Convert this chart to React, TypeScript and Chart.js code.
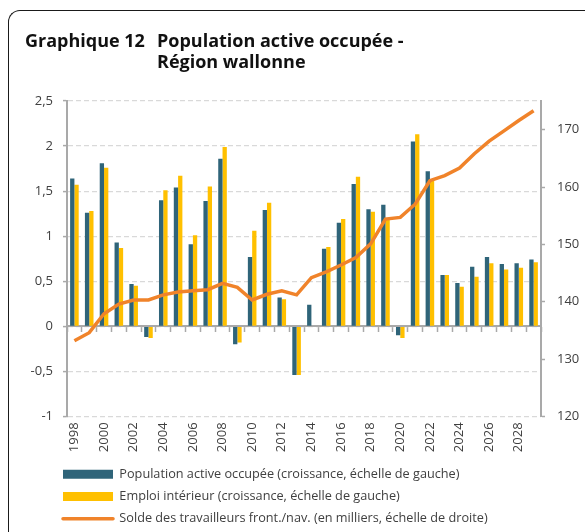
import React, { useEffect, useRef } from "react";
import { Chart, registerables } from "chart.js";

Chart.register(...registerables);

const years: string[] = [
  "1998", "1999", "2000", "2001", "2002", "2003", "2004", "2005", "2006", "2007",
  "2008", "2009", "2010", "2011", "2012", "2013", "2014", "2015", "2016", "2017",
  "2018", "2019", "2020", "2021", "2022", "2023", "2024", "2025", "2026", "2027",
  "2028", "2029",
];

const populationActive: number[] = [
  1.64, 1.26, 1.81, 0.93, 0.47, -0.12, 1.40, 1.54, 0.91, 1.39,
  1.86, -0.20, 0.77, 1.29, 0.32, -0.54, 0.24, 0.86, 1.15, 1.58,
  1.30, 1.35, -0.10, 2.05, 1.72, 0.57, 0.48, 0.66, 0.77, 0.69,
  0.70, 0.74,
];

const emploiInterieur: number[] = [
  1.57, 1.28, 1.76, 0.87, 0.45, -0.13, 1.51, 1.67, 1.01, 1.55,
  1.99, -0.18, 1.06, 1.37, 0.30, -0.54, 0.0, 0.88, 1.19, 1.66,
  1.27, 1.18, -0.13, 2.13, 1.62, 0.57, 0.44, 0.55, 0.70, 0.63,
  0.65, 0.71,
];

const soldeFrontaliers: number[] = [
  133.2, 134.6, 137.9, 139.6, 140.3, 140.3, 141.2, 141.7, 141.9, 142.1,
  143.2, 142.5, 140.3, 141.3, 141.9, 141.2, 144.2, 145.2, 146.4, 147.7,
  150.1, 154.4, 154.7, 157.0, 161.1, 162.0, 163.3, 165.8, 168.0, 169.8,
  171.6, 173.3,
];

const seriesLabels: string[] = [
  "Population active occupée (croissance, échelle de gauche)",
  "Emploi intérieur (croissance, échelle de gauche)",
  "Solde des travailleurs front./nav. (en milliers, échelle de droite)",
];

const titleLabel = "Graphique 12";
const titleLines: string[] = ["Population active occupée -", "Région wallonne"];

const FONT = "'Open Sans', Lato, sans-serif";
const TEXT = "#404040";
const AXIS = "#A9A9A9";
const GRID = "#D9D9D9";

const legendShift = {
  id: "legendShift",
  afterLayout(chart: any) {
    const lg = chart.legend;
    const y = chart.scales.y;
    if (lg && y) {
      lg.left = y.left + 26.5;
    }
  },
};

export default function App() {
  const canvasRef = useRef<HTMLCanvasElement | null>(null);

  useEffect(() => {
    const canvas = canvasRef.current;
    if (!canvas) return;
    const chart = new Chart(canvas, {
      type: "bar",
      plugins: [legendShift],
      data: {
        labels: years,
        datasets: [
          {
            type: "bar",
            label: seriesLabels[0],
            data: populationActive,
            backgroundColor: "#2F6479",
            borderWidth: 0,
            barPercentage: 1,
            categoryPercentage: 0.58,
            yAxisID: "y",
            order: 1,
          },
          {
            type: "bar",
            label: seriesLabels[1],
            data: emploiInterieur,
            backgroundColor: "#FFC000",
            borderWidth: 0,
            barPercentage: 1,
            categoryPercentage: 0.58,
            yAxisID: "y",
            order: 2,
          },
          {
            type: "line",
            label: seriesLabels[2],
            data: soldeFrontaliers,
            borderColor: "#F0832A",
            backgroundColor: "#F0832A",
            borderWidth: 3.5,
            pointRadius: 0,
            tension: 0,
            yAxisID: "y1",
            order: 0,
          } as any,
        ],
      },
      options: {
        responsive: false,
        animation: false,
        layout: { padding: { left: 27, right: 0, top: 101, bottom: -3 } },
        plugins: {
          tooltip: { enabled: false },
          title: { display: false },
          legend: {
            position: "bottom",
            align: "start",
            labels: {
              usePointStyle: true,
              pointStyleWidth: 50,
              boxHeight: 9,
              padding: 9.5,
              color: TEXT,
              font: { family: FONT, size: 12.7 },
              sort: (a: any, b: any) => a.datasetIndex - b.datasetIndex,
              generateLabels: (c: any) => {
                const items = Chart.defaults.plugins.legend.labels.generateLabels(c);
                return items.map((it: any) => {
                  if (it.datasetIndex === 2) {
                    return { ...it, pointStyle: "line", lineWidth: 3.5, strokeStyle: "#F0832A", lineCap: "round" };
                  }
                  return { ...it, pointStyle: "rect", lineWidth: 0 };
                });
              },
            },
          },
        },
        scales: {
          x: {
            type: "category",
            position: "bottom",
            offset: true,
            grid: { display: false, drawTicks: false },
            border: { display: false },
            ticks: {
              autoSkip: false,
              minRotation: 90,
              maxRotation: 90,
              padding: 6,
              color: TEXT,
              font: { family: FONT, size: 13 },
              callback: (_v: any, i: number) => (i % 2 === 0 ? years[i] : ""),
            },
            afterFit: (s: any) => {
              s.height = 42;
            },
          },
          x2: {
            type: "category",
            labels: years,
            position: { y: 0 } as any,
            offset: true,
            z: 1,
            grid: {
              drawOnChartArea: false,
              drawTicks: true,
              tickLength: 5,
              tickWidth: 1.5,
              tickColor: AXIS,
              offset: true,
            },
            border: { display: true, color: AXIS, width: 2 },
            ticks: { display: false },
          } as any,
          y: {
            type: "linear",
            position: "left",
            min: -1,
            max: 2.5,
            ticks: {
              stepSize: 0.5,
              padding: 10,
              color: TEXT,
              font: { family: FONT, size: 13 },
              callback: (v: any) => String(Number(v)).replace(".", ","),
            },
            grid: {
              color: GRID,
              lineWidth: 1.2,
              drawTicks: true,
              tickLength: 4,
              tickColor: AXIS,
              tickWidth: 1.5,
            },
            border: { display: true, color: AXIS, width: 2, dash: [5, 3] },
            afterFit: (s: any) => {
              s.width = 40;
            },
          },
          y1: {
            type: "linear",
            position: "right",
            min: 120,
            max: 175,
            ticks: {
              stepSize: 10,
              padding: 12,
              color: TEXT,
              font: { family: FONT, size: 13 },
            },
            afterBuildTicks: (s: any) => {
              s.ticks = s.ticks.filter((t: any) => t.value <= 170);
            },
            grid: {
              drawOnChartArea: false,
              drawTicks: true,
              tickLength: 4,
              tickColor: AXIS,
              tickWidth: 1.5,
            },
            border: { display: true, color: AXIS, width: 2 },
            afterFit: (s: any) => {
              s.width = 44;
            },
          },
        },
      } as any,
    });
    return () => chart.destroy();
  }, []);

  const titleStyle: React.CSSProperties = {
    position: "absolute",
    top: 30,
    fontFamily: FONT,
    fontWeight: 700,
    fontSize: 18,
    lineHeight: "21px",
    color: "#111",
    whiteSpace: "nowrap",
  };

  return (
    <div
      style={{
        position: "fixed",
        left: 0,
        top: 0,
        width: 585,
        height: 532,
        overflow: "hidden",
        background: "#fff",
      }}
    >
      <div
        style={{
          position: "absolute",
          left: 8,
          top: 10,
          width: 800,
          height: 800,
          borderTop: "1.5px solid #1a1a1a",
          borderLeft: "1.5px solid #1a1a1a",
          borderTopLeftRadius: 12,
        }}
      />
      <canvas
        ref={canvasRef}
        width={585}
        height={532}
        style={{ position: "absolute", left: 0, top: 0, width: 585, height: 532 }}
      />
      <div style={{ ...titleStyle, left: 25 }}>{titleLabel}</div>
      <div style={{ ...titleStyle, left: 157 }}>
        {titleLines[0]}
        <br />
        {titleLines[1]}
      </div>
    </div>
  );
}
